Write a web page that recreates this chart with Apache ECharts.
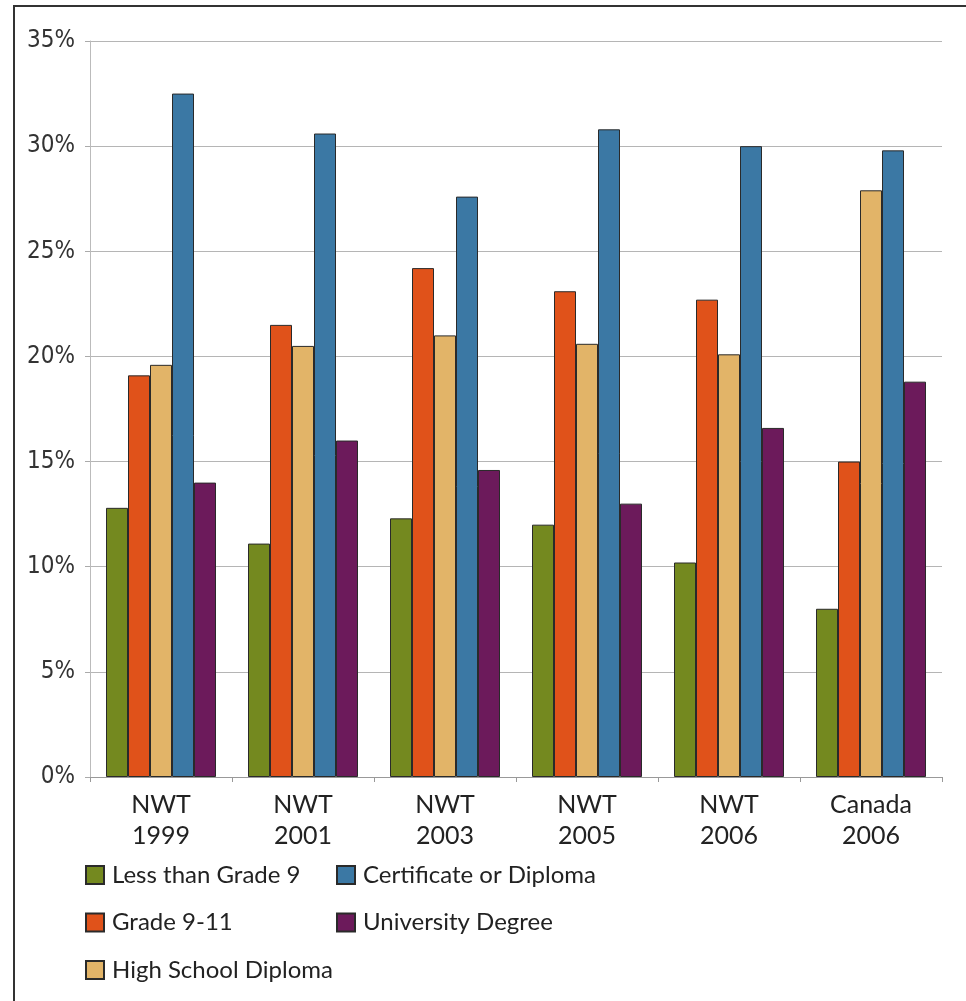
<!DOCTYPE html>
<html>
<head>
<meta charset="utf-8">
<title>Education attainment</title>
<script src="https://cdn.jsdelivr.net/npm/echarts@6/dist/echarts.min.js"></script>
<style>
  html, body { margin: 0; padding: 0; background: #fff; }
  #frame { position: absolute; left: 13px; top: 5px; width: 953px; height: 996px;
           border-left: 2px solid #333; border-top: 2px solid #333; box-sizing: border-box; }
  #chart { position: absolute; left: 0; top: 0; width: 966px; height: 1001px; }
</style>
</head>
<body>
<div id="frame"></div>
<div id="chart"></div>
<script>
// Categories (two-line labels)
const categories = ['NWT\n1999', 'NWT\n2001', 'NWT\n2003', 'NWT\n2005', 'NWT\n2006', 'Canada\n2006'];

// Share of population by highest level of schooling (%)
const lessThanGrade9   = [12.8, 11.1, 12.3, 12.0, 10.2, 8.0];
const grade9to11       = [19.1, 21.5, 24.2, 23.1, 22.7, 15.0];
const highSchool       = [19.6, 20.5, 21.0, 20.6, 20.1, 27.9];
const certificate      = [32.5, 30.6, 27.6, 30.8, 30.0, 29.8];
const university       = [14.0, 16.0, 14.6, 13.0, 16.6, 18.8];

const seriesNames = ['Less than Grade 9', 'Grade 9-11', 'High School Diploma',
                     'Certificate or Diploma', 'University Degree'];
const seriesData  = [lessThanGrade9, grade9to11, highSchool, certificate, university];
const colors      = ['#74891f', '#e0521a', '#e2b468', '#3b78a4', '#6c1a5b'];

const yTicks = { min: 0, max: 35, interval: 5 };

const labelFont = 'Lato, "Open Sans", sans-serif';
const tickFont  = '"DejaVu Sans Condensed", "Liberation Sans Narrow", sans-serif';

const chart = echarts.init(document.getElementById('chart'), null, { renderer: 'canvas' });

const legendCommon = {
  orient: 'vertical',
  itemWidth: 18,
  itemHeight: 18,
  itemGap: 23.5,
  icon: 'rect',
  selectedMode: false,
  textStyle: { fontFamily: labelFont, fontSize: 24, color: '#222', padding: [0, 0, 0, 3] }
};

chart.setOption({
  animation: false,
  backgroundColor: 'transparent',
  grid: { left: 90, right: 24, top: 41, bottom: 224, containLabel: false },
  legend: [
    Object.assign({}, legendCommon, { left: 80, top: 858, data: seriesNames.slice(0, 3) }),
    Object.assign({}, legendCommon, { left: 331, top: 858, data: seriesNames.slice(3) })
  ],
  xAxis: {
    type: 'category',
    data: categories,
    axisLine: { lineStyle: { color: '#999', width: 1 } },
    axisTick: { show: true, length: 5, lineStyle: { color: '#999' } },
    axisLabel: {
      fontFamily: labelFont, fontSize: 25, color: '#222',
      lineHeight: 31, margin: 12
    }
  },
  yAxis: {
    type: 'value',
    min: yTicks.min, max: yTicks.max, interval: yTicks.interval,
    axisLine: { show: true, lineStyle: { color: '#bbb', width: 1 } },
    axisTick: { show: true, length: 5, lineStyle: { color: '#aaa' } },
    splitLine: { lineStyle: { color: '#b5b5b5', width: 1 } },
    axisLabel: {
      formatter: '{value}%', fontFamily: tickFont, fontSize: 24, color: '#333', margin: 15
    }
  },
  series: seriesNames.map((name, i) => ({
    name: name,
    type: 'bar',
    data: seriesData[i],
    barWidth: 22,
    barGap: '0%',
    itemStyle: { color: colors[i], borderColor: '#2a2a2a', borderWidth: 1 }
  }))
});
</script>
</body>
</html>
